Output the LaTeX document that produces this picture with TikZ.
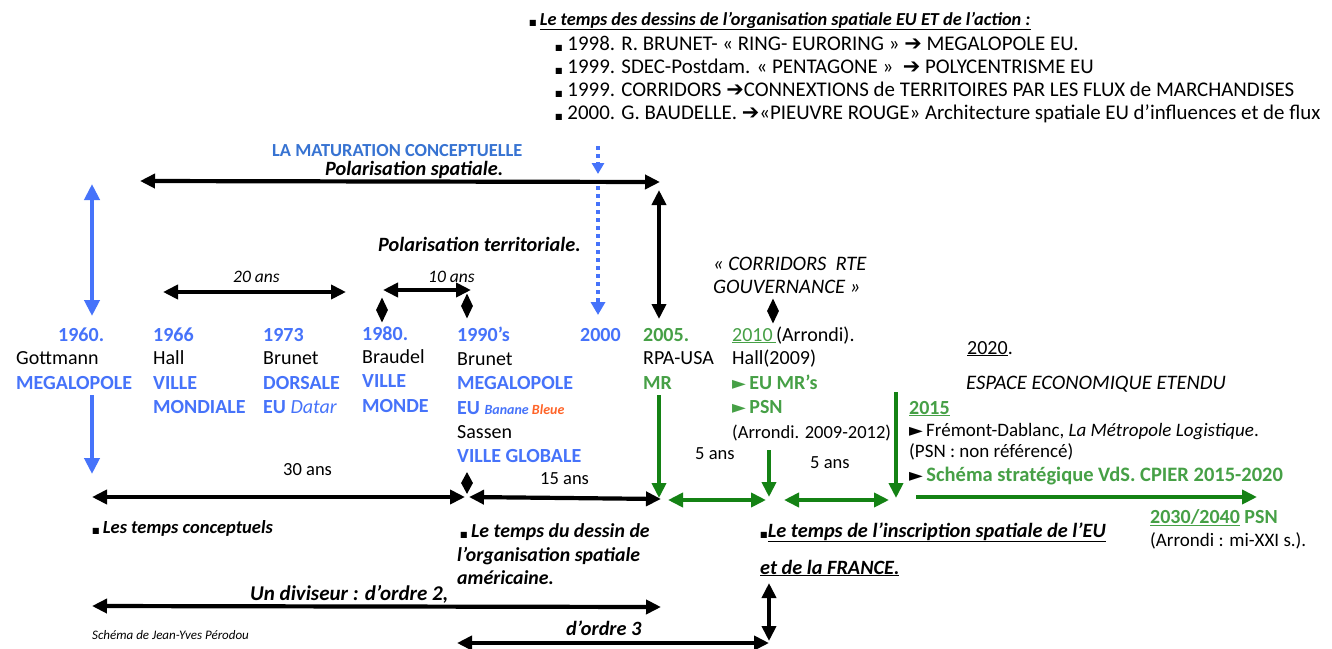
\documentclass[tikz,border=0pt]{standalone}
\usepackage{fontspec}
\setmainfont{Carlito}
\newfontfamily\sym{DejaVu Sans}
\usetikzlibrary{arrows.meta,shapes.geometric}
\definecolor{bl}{RGB}{70,115,250}
\definecolor{mb}{RGB}{55,115,210}
\definecolor{gt}{RGB}{70,160,70}
\definecolor{ga}{RGB}{20,130,20}
\definecolor{og}{RGB}{255,100,40}
\newcommand\blt{{\sym\fontsize{8}{8}\selectfont ■}}
\newcommand\tri{{\sym\fontsize{18}{18}\selectfont ►}}
\newcommand\rarr{{\sym ➔}}
\begin{document}
\begin{tikzpicture}[x=1pt,y=1pt,
  every node/.style={anchor=base west, inner sep=0pt},
  t/.style={font=\fontsize{20}{24}\selectfont},
  tb/.style={font=\fontsize{20}{24}\selectfont\bfseries},
  tl/.style={font=\fontsize{19}{23}\selectfont},
  bi/.style={font=\fontsize{20.3}{24}\selectfont\bfseries\itshape},
  it/.style={font=\fontsize{20.6}{24}\selectfont\itshape},
  sm/.style={font=\fontsize{18.5}{21}\selectfont},
  smi/.style={font=\fontsize{17.5}{20}\selectfont\itshape},
  dia/.style={diamond, fill=black, inner sep=0pt, minimum width=12pt, minimum height=25pt, anchor=center},
  arr/.style={line width=4.2pt, {Triangle[length=15pt,width=14pt]}-{Triangle[length=15pt,width=14pt]}},
  sarr/.style={line width=4.2pt, -{Triangle[length=15pt,width=14pt]}},
]
\useasboundingbox (0,0) rectangle (1332,-648);
\fill[white] (0,0) rectangle (1332,-648);

% top block
\node[font=\fontsize{18.3}{22}\selectfont\bfseries\itshape] (h0) at (529,-25) {\blt\,\underline{Le temps des dessins de l’organisation spatiale EU ET de l’action :}};
\node[font=\fontsize{20.9}{23}\selectfont] (h1) at (555,-50) {\blt\ 1998. R. BRUNET- « RING- EURORING » \rarr\ MEGALOPOLE EU.};
\node[font=\fontsize{20.9}{23}\selectfont] (h2) at (555,-73) {\blt\ 1999. SDEC-Postdam. « PENTAGONE »~~\rarr\ POLYCENTRISME EU};
\node[font=\fontsize{20.9}{23}\selectfont] (h3) at (555,-96) {\blt\ 1999. CORRIDORS \rarr CONNEXTIONS de TERRITOIRES PAR LES FLUX de MARCHANDISES};
\node[font=\fontsize{20.9}{23}\selectfont] (h4) at (555,-119) {\blt\ 2000. G. BAUDELLE. \rarr«PIEUVRE ROUGE» Architecture spatiale EU d’influences et de flux};

\node[font=\fontsize{18.4}{22}\selectfont\bfseries, text=mb] (mat) at (272,-156) {LA MATURATION CONCEPTUELLE};
\node[bi] (pspa) at (325,-175) {Polarisation spatiale.};
\node[bi] (pter) at (378,-251) {Polarisation territoriale.};
\node[smi] (a20) at (233,-282) {20 ans};
\node[smi] (a10) at (428,-282) {10 ans};
\node[it] (cor1) at (713,-270) {« CORRIDORS~ RTE};
\node[it] (cor2) at (713,-293) {GOUVERNANCE »};

% columns
\node[tb, text=bl] (y60) at (58,-341) {1960.};
\node[t] (gott) at (16,-364) {Gottmann};
\node[tb, text=bl] (meg1) at (16,-389) {MEGALOPOLE};

\node[tb, text=bl] (y66) at (153,-341) {1966};
\node[t] (hall) at (153,-364) {Hall};
\node[tb, text=bl] (vm1) at (153,-389) {VILLE};
\node[tb, text=bl] (vm2) at (153,-413) {MONDIALE};

\node[tb, text=bl] (y73) at (263,-341) {1973};
\node[t] (brun1) at (263,-364) {Brunet};
\node[tb, text=bl] (dor1) at (263,-389) {DORSALE};
\node[tb, text=bl] (dor2) at (263,-413) {EU \mdseries\itshape Datar};

\node[tb, text=bl] (y80) at (362,-340) {1980.};
\node[t] (brau) at (362,-363) {Braudel};
\node[tb, text=bl] (vmo1) at (362,-387) {VILLE};
\node[tb, text=bl] (vmo2) at (362,-412) {MONDE};

\node[tb, text=bl] (y90) at (457,-341) {1990’s};
\node[t] (brun2) at (457,-365) {Brunet};
\node[tb, text=bl] (meg2) at (457,-389) {MEGALOPOLE};
\node[tb, text=bl] (eu90) at (457,-414) {EU {\fontsize{14}{16}\selectfont\itshape Banane \textcolor{og}{Bleue}}};
\node[t] (sass) at (457,-438) {Sassen};
\node[tb, text=bl] (vglo) at (457,-462) {VILLE GLOBALE};

\node[tb, text=bl] (y00) at (580,-341) {2000};

\node[tb, text=gt] (y05) at (643,-341) {2005.};
\node[t] (rpa) at (643,-364) {RPA-USA};
\node[tb, text=gt] (mr) at (643,-389) {MR};

\node[t] (y10) at (732,-341) {\textcolor{gt}{\underline{2010\,}}(Arrondi).};
\node[t] (hall9) at (732,-364) {Hall(2009)};
\node[tb, text=gt] (eumr) at (732,-389) {\tri\,EU MR’s};
\node[tb, text=gt] (psn) at (732,-413) {\tri\,PSN};
\node[sm] (arr0912) at (732,-438) {(Arrondi. 2009-2012)};

\node[sm] (a5a) at (695,-459) {5 ans};
\node[sm] (a5b) at (810,-468) {5 ans};
\node[sm] (a15) at (540,-484) {15 ans};
\node[sm] (a30) at (283,-475) {30 ans};

\node[t] (y20) at (967,-354) {\underline{2020}.};
\node[it] (esp) at (966,-389) {ESPACE ECONOMIQUE ETENDU};
\node[tb, text=gt] (y15) at (909,-414) {\underline{2015}};
\node[tl] (frem) at (909,-436) {\tri\,Frémont-Dablanc, \textit{La Métropole Logistique}.};
\node[tl] (psnnr) at (909,-457) {(PSN : non référencé)};
\node[font=\fontsize{20.5}{23}\selectfont\bfseries, text=gt] (schem) at (909,-481) {\textcolor{black}{\tri}\,Schéma stratégique VdS. CPIER 2015-2020};
\node[tb, text=gt] (y3040) at (1150,-523) {\underline{2030/2040} PSN};
\node[font=\fontsize{19}{22}\selectfont] (mixxi) at (1150,-546) {(Arrondi : mi-XXI s.).};

% bottom texts
\node[font=\fontsize{18.5}{22}\selectfont\bfseries\itshape] (tcon) at (92,-533) {\blt\,Les temps conceptuels};
\node[font=\fontsize{19.8}{23}\selectfont\bfseries\itshape] (tdes1) at (460,-537) {\blt\,Le temps du dessin de};
\node[font=\fontsize{19.8}{23}\selectfont\bfseries\itshape] (tdes2) at (457,-561) {l’organisation spatiale};
\node[font=\fontsize{19.8}{23}\selectfont\bfseries\itshape] (tdes3) at (457,-584) {américaine.};
\node[bi] (tins1) at (760,-537) {\blt\underline{Le temps de l’inscription spatiale de l’EU}};
\node[bi] (tins2) at (760,-574) {\underline{et de la FRANCE.}};
\node[font=\fontsize{21}{24}\selectfont\bfseries\itshape] (div2) at (250,-600) {Un diviseur : d’ordre 2,};
\node[font=\fontsize{13}{15}\selectfont\itshape] (auth) at (92,-639) {Schéma de Jean-Yves Pérodou};
\node[bi] (ord3) at (566,-635) {d’ordre 3};

% diamonds
\node[dia] (d80) at (382,-310) {};
\node[dia] (d90) at (467,-306) {};
\node[dia] (d10) at (773,-311) {};
\node[dia, minimum height=22pt] (dmid) at (467,-483) {};

% coordinates for arrows
\coordinate (p1a) at (140,-181); \coordinate (p1b) at (660,-182);
\coordinate (bv1) at (92,-184); \coordinate (bv2) at (92,-316);
\coordinate (bv3) at (92,-395); \coordinate (bv4) at (92,-474);
\coordinate (kv1) at (659,-190); \coordinate (kv2) at (659,-319);
\coordinate (dt1) at (598,-146); \coordinate (dt2) at (598,-174);
\coordinate (dt3) at (598,-186); \coordinate (dt4) at (598,-315);
\coordinate (h20a) at (163,-292); \coordinate (h20b) at (346,-292);
\coordinate (h10a) at (383,-290); \coordinate (h10b) at (471,-290);
\coordinate (l30a) at (92,-497); \coordinate (l30b) at (465,-497);
\coordinate (l15a) at (469,-497); \coordinate (l15b) at (661,-499);
\coordinate (g05a) at (659,-395); \coordinate (g05b) at (659,-498);
\coordinate (g10a) at (769,-450); \coordinate (g10b) at (769,-497);
\coordinate (g15a) at (896,-392); \coordinate (g15b) at (896,-498);
\coordinate (ga1) at (668,-500); \coordinate (ga2) at (766,-500);
\coordinate (gb1) at (784,-500); \coordinate (gb2) at (889,-500);
\coordinate (gf1) at (916,-497); \coordinate (gf2) at (1257,-497);
\coordinate (o2a) at (92,-606); \coordinate (o2b) at (661,-607);
\coordinate (o3a) at (457,-643); \coordinate (o3b) at (769,-643);
\coordinate (fv1) at (769,-583); \coordinate (fv2) at (769,-641);

% black arrows
\draw[arr] (p1a) -- (p1b);
\draw[arr] (kv1) -- (kv2);
\draw[arr] (h20a) -- (h20b);
\draw[arr] (h10a) -- (h10b);
\draw[arr] (l30a) -- (l30b);
\draw[arr] (l15a) -- (l15b);
\draw[arr] (o2a) -- (o2b);
\draw[arr] (o3a) -- (o3b);
\draw[arr] (fv1) -- (fv2);
% blue arrows
\draw[bl, line width=4.6pt, {Triangle[length=16pt,width=15pt]}-{Triangle[length=16pt,width=15pt]}] (bv1) -- (bv2);
\draw[bl, line width=4.6pt, -{Triangle[length=16pt,width=15pt]}] (bv3) -- (bv4);
\draw[bl, line width=4pt, dash pattern=on 4pt off 4pt, -{Triangle[length=11pt,width=12pt]}] (dt1) -- (dt2);
\draw[bl, line width=4pt, dash pattern=on 4pt off 4pt, -{Triangle[length=13pt,width=14pt]}] (dt3) -- (dt4);
% green arrows
\draw[sarr, ga] (g05a) -- (g05b);
\draw[sarr, ga] (g10a) -- (g10b);
\draw[sarr, ga] (g15a) -- (g15b);
\draw[arr, ga] (ga1) -- (ga2);
\draw[arr, ga] (gb1) -- (gb2);
\draw[sarr, ga] (gf1) -- (gf2);
\end{tikzpicture}
\end{document}
